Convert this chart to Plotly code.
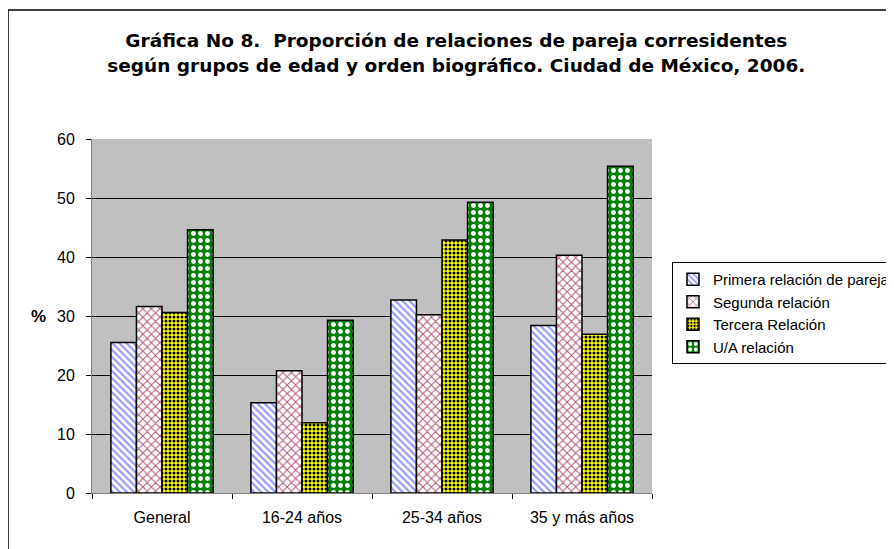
import plotly.graph_objects as go

# Data
categories = ["General", "16-24 años", "25-34 años", "35 y más años"]
series_names = ["Primera relación de pareja", "Segunda relación", "Tercera Relación", "U/A relación"]
primera = [25.5, 15.3, 32.7, 28.4]
segunda = [31.6, 20.7, 30.2, 40.3]
tercera = [30.6, 11.9, 42.9, 26.9]
ua = [44.6, 29.3, 49.3, 55.4]
y_ticks = [0, 10, 20, 30, 40, 50, 60]

values = [primera, segunda, tercera, ua]

# (shape, background, foreground, size, solidity)
patterns = [
    ("\\", "white", "#9999ff", 5, 0.45),
    ("x", "white", "#b0587a", 6, 0.3),
    (".", "#ffff00", "#000000", 4, 0.45),
    (".", "#008000", "white", 7, 0.4),
]
legend_colors = ["#9999ff", "#cc6699", "#ffff00", "#008000"]

fig = go.Figure()
for name, vals, pat, col in zip(series_names, values, patterns, legend_colors):
    shape, bg, fg, size, sol = pat
    fig.add_trace(go.Bar(
        x=categories, y=vals, name=name,
        marker=dict(
            color=col,
            line=dict(color="black", width=1.5),
            pattern=dict(shape=shape, bgcolor=bg, fgcolor=fg, size=size,
                         solidity=sol, fillmode="replace"),
        ),
    ))

# the page adds an 8px body margin, so the figure is sized to fit inside it
fig.update_layout(
    width=886, height=541,
    margin=dict(l=84, r=242, t=131, b=56, autoexpand=False),
    paper_bgcolor="white",
    plot_bgcolor="#c0c0c0",
    font=dict(family="Liberation Sans, Arial, sans-serif", size=16, color="black"),
    barmode="group",
    bargap=0.27,
    bargroupgap=0,
    title=dict(
        text="<b>Gráfica No 8.  Proporción de relaciones de pareja corresidentes<br>"
             "según grupos de edad y orden biográfico. Ciudad de México, 2006.</b>",
        x=0.506, xanchor="center", y=0.927, yanchor="middle",
        font=dict(family="DejaVu Sans, sans-serif", size=18.5),
    ),
    legend=dict(
        x=1.0357, xanchor="left", y=0.6525, yanchor="top",
        bgcolor="white", bordercolor="black", borderwidth=1,
        font=dict(size=15), tracegroupgap=0, itemwidth=30,
    ),
    showlegend=True,
)

fig.update_xaxes(
    showline=True, linecolor="#808080", linewidth=1,
    ticks="outside", tickson="boundaries", ticklen=5, tickcolor="black",
    ticklabelstandoff=10,
    showgrid=False,
)
fig.update_yaxes(
    range=[0, 60], tickvals=y_ticks,
    showline=True, linecolor="#808080", linewidth=1,
    ticks="outside", ticklen=5, tickcolor="black",
    ticklabelstandoff=8,
    showgrid=True, gridcolor="black", gridwidth=1,
    zeroline=False,
)

fig.add_annotation(text="<b>%</b>", xref="paper", yref="paper", x=-0.112, y=0.5,
                   showarrow=False, font=dict(size=17))

# outer chart border (cropped at right and bottom in the reference)
fig.add_shape(type="rect", xref="paper", yref="paper",
              x0=-0.15, y0=-0.3, x1=1.6, y1=1.3644,
              line=dict(color="black", width=1.5), layer="below")

fig.write_html("out.html")
